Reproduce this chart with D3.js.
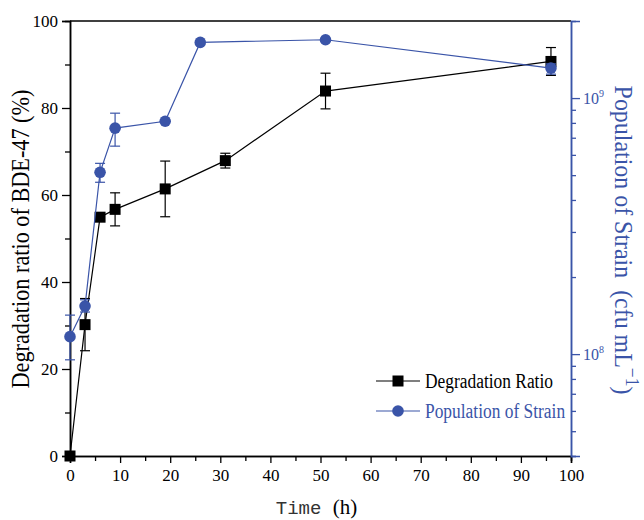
<!DOCTYPE html>
<html>
<head>
<meta charset="utf-8">
<script src="https://cdn.jsdelivr.net/npm/d3@7"></script>
<style>
body { margin: 0; background: #fff; }
svg text { font-family: "Liberation Serif", "Times New Roman", serif; }
</style>
</head>
<body>
<div id="chart"></div>
<script>
// degradation ratio (%) vs time
var degTime = [0, 3, 6, 9, 19, 31, 51, 96];
var degradation = [0, 30.2, 54.9, 56.7, 61.4, 67.9, 83.9, 90.7];
var degErr = [0, 6, 0.8, 3.8, 6.4, 1.7, 4.1, 3.2];

// strain population (cfu/mL) vs time
var popTime = [0, 3, 6, 9, 19, 26, 51, 96];
var population = [1.17e8, 1.54e8, 5.13e8, 7.63e8, 8.12e8, 1.65e9, 1.69e9, 1.31e9];
var popLow = [9.5e7, 1.46e8, 4.69e8, 6.49e8, 8.12e8, 1.65e9, 1.69e9, 1.24e9];
var popHigh = [1.42e8, 1.63e8, 5.56e8, 8.73e8, 8.12e8, 1.65e9, 1.69e9, 1.36e9];

var xTicks = [0, 10, 20, 30, 40, 50, 60, 70, 80, 90, 100];
var yTicks = [0, 20, 40, 60, 80, 100];
var rMajor = [1e8, 1e9];
var rMinor = [4e7, 5e7, 6e7, 7e7, 8e7, 9e7, 2e8, 3e8, 4e8, 5e8, 6e8, 7e8, 8e8, 9e8];

var blue = "#3a54a8";
var width = 644, height = 520;
var plot = {left: 70, right: 571, top: 21, bottom: 456};

var svg = d3.select("#chart").append("svg")
    .attr("width", width)
    .attr("height", height);

var x = d3.scaleLinear().domain([0, 100]).range([plot.left, plot.right]);
var y = d3.scaleLinear().domain([0, 100]).range([plot.bottom, plot.top]);
var yr = d3.scaleLog().domain([4e7, 2e9]).range([plot.bottom, plot.top]);

// top frame line
svg.append("line")
    .attr("x1", plot.left).attr("x2", plot.right)
    .attr("y1", plot.top).attr("y2", plot.top)
    .attr("stroke", "#000").attr("stroke-width", 1.5);

// x axis
var gx = svg.append("g").attr("transform", "translate(0," + plot.bottom + ")");
gx.append("g").call(d3.axisBottom(x).tickValues(d3.range(5, 100, 10)).tickSize(5).tickFormat(""));
gx.append("g").call(d3.axisBottom(x).tickValues(xTicks).tickSize(7).tickPadding(6).tickFormat(d3.format("d")));
gx.selectAll("text").attr("font-size", 17).attr("fill", "#000")
    .attr("font-family", "Liberation Serif");
gx.selectAll(".domain").attr("stroke-width", 1.5);
gx.selectAll("line").attr("stroke-width", 1.3);

// left axis
var gy = svg.append("g").attr("transform", "translate(" + plot.left + ",0)");
gy.append("g").call(d3.axisLeft(y).tickValues(d3.range(10, 100, 20)).tickSize(5).tickFormat(""));
gy.append("g").call(d3.axisLeft(y).tickValues(yTicks).tickSize(8).tickPadding(4).tickFormat(d3.format("d")));
gy.selectAll("text").attr("font-size", 17).attr("fill", "#000")
    .attr("font-family", "Liberation Serif");
gy.selectAll(".domain").attr("stroke-width", 1.5);
gy.selectAll("line").attr("stroke-width", 1.3);

// right axis (log)
var gr = svg.append("g").attr("transform", "translate(" + plot.right + ",0)");
gr.append("g").call(d3.axisRight(yr).tickValues(rMinor).tickSize(5).tickFormat(""));
gr.append("g").call(d3.axisRight(yr).tickValues(rMajor).tickSize(9).tickFormat(""));
gr.selectAll(".domain").attr("stroke", blue).attr("stroke-width", 1.5);
gr.selectAll("line").attr("stroke", blue).attr("stroke-width", 1.3);

var rLabels = gr.selectAll(".rlab")
    .data(rMajor).enter()
    .append("text")
    .attr("class", "rlab")
    .attr("x", 12)
    .attr("y", function(d) { return yr(d) + 6; })
    .attr("fill", blue)
    .attr("font-size", 16);
rLabels.append("tspan").text("10");
rLabels.append("tspan")
    .attr("dy", -7).attr("font-size", 10)
    .text(function(d) { return Math.round(Math.log10(d)); });

// axis titles
svg.append("text")
    .attr("transform", "translate(29," + 239 + ") rotate(-90) scale(0.89,1)")
    .attr("text-anchor", "middle")
    .attr("font-size", 25)
    .attr("fill", "#000")
    .text("Degradation ratio of BDE-47\u00a0(%)");

var rt = svg.append("text")
    .attr("transform", "translate(615,240) rotate(90) scale(0.92,1)")
    .attr("text-anchor", "middle")
    .attr("font-size", 26)
    .attr("fill", blue);
rt.append("tspan").text("Population of Strain\u00a0\u00a0(cfu mL");
rt.append("tspan").attr("dy", -11).attr("font-size", 19).text("\u22121");
rt.append("tspan").attr("dy", 11).text(")");

var xt = svg.append("text")
    .attr("x", (plot.left + plot.right) / 2 - 4)
    .attr("y", 514)
    .attr("text-anchor", "middle")
    .attr("font-size", 21)
    .attr("fill", "#000");
xt.append("tspan").attr("font-family", "Liberation Mono").attr("font-size", 19).attr("fill", "#333").text("Time ");
xt.append("tspan").text("(h)");

// degradation series
var line = d3.line()
    .x(function(d, i) { return x(degTime[i]); })
    .y(function(d) { return y(d); });

svg.append("path")
    .datum(degradation)
    .attr("d", line)
    .attr("fill", "none")
    .attr("stroke", "#000")
    .attr("stroke-width", 1.2);

var degBars = svg.selectAll(".degerr")
    .data(degradation).enter()
    .append("g")
    .attr("class", "degerr")
    .filter(function(d, i) { return degErr[i] > 0; });
degBars.append("line")
    .attr("x1", function(d) { return x(degTime[degradation.indexOf(d)]); })
    .attr("x2", function(d) { return x(degTime[degradation.indexOf(d)]); })
    .attr("y1", function(d) { return y(d - degErr[degradation.indexOf(d)]); })
    .attr("y2", function(d) { return y(d + degErr[degradation.indexOf(d)]); })
    .attr("stroke", "#000").attr("stroke-width", 1.2);
[-1, 1].forEach(function(s) {
    degBars.append("line")
        .attr("x1", function(d) { return x(degTime[degradation.indexOf(d)]) - 5; })
        .attr("x2", function(d) { return x(degTime[degradation.indexOf(d)]) + 5; })
        .attr("y1", function(d) { return y(d + s * degErr[degradation.indexOf(d)]); })
        .attr("y2", function(d) { return y(d + s * degErr[degradation.indexOf(d)]); })
        .attr("stroke", "#000").attr("stroke-width", 1.2);
});

svg.selectAll(".sq")
    .data(degradation).enter()
    .append("rect")
    .attr("class", "sq")
    .attr("x", function(d, i) { return x(degTime[i]) - 5.5; })
    .attr("y", function(d) { return y(d) - 5.5; })
    .attr("width", 11).attr("height", 11)
    .attr("fill", "#000");

// population series
var pline = d3.line()
    .x(function(d, i) { return x(popTime[i]); })
    .y(function(d) { return yr(d); });

svg.append("path")
    .datum(population)
    .attr("d", pline)
    .attr("fill", "none")
    .attr("stroke", blue)
    .attr("stroke-width", 1.2);

var popBars = svg.selectAll(".poperr")
    .data(population).enter()
    .append("g")
    .attr("class", "poperr")
    .filter(function(d, i) { return popHigh[i] > popLow[i]; });
popBars.append("line")
    .attr("x1", function(d) { return x(popTime[population.indexOf(d)]); })
    .attr("x2", function(d) { return x(popTime[population.indexOf(d)]); })
    .attr("y1", function(d) { return yr(popLow[population.indexOf(d)]); })
    .attr("y2", function(d) { return yr(popHigh[population.indexOf(d)]); })
    .attr("stroke", blue).attr("stroke-width", 1.2);
[popLow, popHigh].forEach(function(arr) {
    popBars.append("line")
        .attr("x1", function(d) { return x(popTime[population.indexOf(d)]) - 5; })
        .attr("x2", function(d) { return x(popTime[population.indexOf(d)]) + 5; })
        .attr("y1", function(d) { return yr(arr[population.indexOf(d)]); })
        .attr("y2", function(d) { return yr(arr[population.indexOf(d)]); })
        .attr("stroke", blue).attr("stroke-width", 1.2);
});

svg.selectAll(".dot")
    .data(population).enter()
    .append("circle")
    .attr("class", "dot")
    .attr("cx", function(d, i) { return x(popTime[i]); })
    .attr("cy", function(d) { return yr(d); })
    .attr("r", 5.8)
    .attr("fill", blue);

// legend
var legend = svg.append("g").attr("transform", "translate(376,381)");
legend.append("line").attr("x1", 0).attr("x2", 44).attr("y1", 0).attr("y2", 0)
    .attr("stroke", "#000").attr("stroke-width", 1.2);
legend.append("rect").attr("x", 16.5).attr("y", -5.5).attr("width", 11).attr("height", 11).attr("fill", "#000");
legend.append("text").attr("transform", "translate(49,7) scale(0.87,1)")
    .attr("font-size", 20).attr("fill", "#000")
    .text("Degradation Ratio");
legend.append("line").attr("x1", 0).attr("x2", 44).attr("y1", 30).attr("y2", 30)
    .attr("stroke", blue).attr("stroke-width", 1.2);
legend.append("circle").attr("cx", 22).attr("cy", 30).attr("r", 5.8).attr("fill", blue);
legend.append("text").attr("transform", "translate(49,37) scale(0.87,1)")
    .attr("font-size", 20).attr("fill", blue)
    .text("Population of Strain");
</script>
</body>
</html>
